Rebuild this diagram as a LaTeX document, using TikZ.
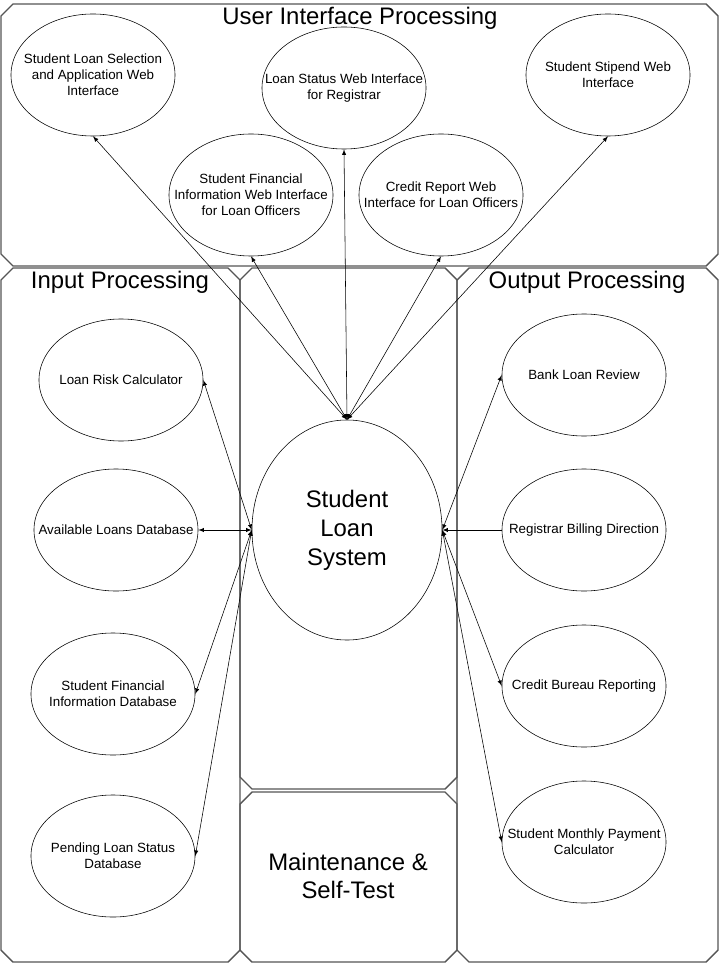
\documentclass[tikz,border=0pt]{standalone}
\usepackage{fontspec}
\setmainfont{Liberation Sans}
\usepackage{tikz}
\usetikzlibrary{shapes.geometric, arrows}
\definecolor{framegray}{HTML}{555555}
\newcommand{\panelbox}[4]{%
  \draw[panel] (#1+\chamf,#2) -- (#3-\chamf,#2) -- (#3,#2+\chamf) -- (#3,#4-\chamf)
    -- (#3-\chamf,#4) -- (#1+\chamf,#4) -- (#1,#4-\chamf) -- (#1,#2+\chamf) -- cycle;}

\begin{document}
\begin{tikzpicture}[
    x=0.025cm, y=-0.025cm,
    panel/.style={draw=framegray, line width=1pt},
    ptitle/.style={font=\fontsize{17}{19.5}\selectfont},
    proc/.style={ellipse, draw, thin, fill=white, minimum width=4.1cm, minimum height=3.05cm,
                 inner sep=-25pt, align=center, font=\fontsize{9.5}{11.4}\selectfont},
    core/.style={proc, minimum width=4.75cm, minimum height=5.5cm,
                 font=\fontsize{17}{20.6}\selectfont},
    link/.style={<->, >=latex, thin},
  ]
  \useasboundingbox (0,0) rectangle (720,964);
  \def\chamf{12}

  % --- panels ---
  \panelbox{1}{4}{718}{266}
  \panelbox{1}{268}{240}{962}
  \panelbox{240}{268}{457}{789}
  \panelbox{240}{792}{457}{962}
  \panelbox{457}{268}{718}{962}

  \node[ptitle] (tui)  at (360,18)  {User Interface Processing};
  \node[ptitle] (tin)  at (120,282) {Input Processing};
  \node[ptitle] (tout) at (587,282) {Output Processing};
  \node[ptitle, align=center] (tmnt) at (348,876) {Maintenance \&\\Self-Test};

  % --- user interface ---
  \node[proc] (ui1) at (93,75)   {Student Loan Selection\\and Application Web\\Interface};
  \node[proc] (ui2) at (344,88)  {Loan Status Web Interface\\for Registrar};
  \node[proc] (ui3) at (608,75)  {Student Stipend Web\\Interface};
  \node[proc] (ui4) at (251,195) {Student Financial\\Information Web Interface\\for Loan Officers};
  \node[proc] (ui5) at (441,195) {Credit Report Web\\Interface for Loan Officers};

  % --- core ---
  \node[core] (sls) at (347,530) {Student\\Loan\\System};

  % --- input ---
  \node[proc] (in1) at (121,380) {Loan Risk Calculator};
  \node[proc] (in2) at (116,530) {Available Loans Database};
  \node[proc] (in3) at (113,694) {Student Financial\\Information Database};
  \node[proc] (in4) at (113,856) {Pending Loan Status\\Database};

  % --- output ---
  \node[proc] (out1) at (584,375) {Bank Loan Review};
  \node[proc] (out2) at (584,530) {Registrar Billing Direction};
  \node[proc] (out3) at (584,686) {Credit Bureau Reporting};
  \node[proc] (out4) at (584,842) {Student Monthly Payment\\Calculator};

  % --- connectors ---
  \foreach \u in {ui1,ui2,ui3,ui4,ui5}
    \draw[link] (sls.north) -- (\u.south);
  \foreach \i in {in1,in2,in3,in4}
    \draw[link] (sls.west) -- (\i.east);
  \foreach \o in {out1,out3,out4}
    \draw[link] (sls.east) -- (\o.west);
  \draw[->, >=latex, thin] (out2.west) -- (sls.east);

\end{tikzpicture}
\end{document}
